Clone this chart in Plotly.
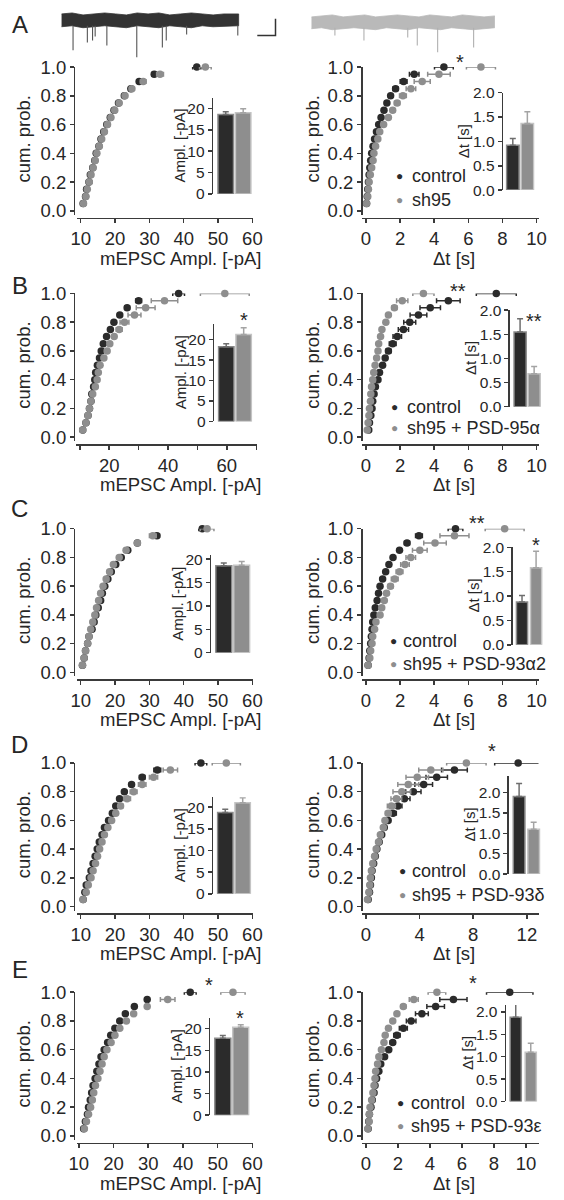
import plotly.graph_objects as go

W, H = 564, 1200

# ---------------- data ----------------
PROBS = [0.05, 0.10, 0.15, 0.20, 0.25, 0.30, 0.35, 0.40, 0.45, 0.50,
         0.55, 0.60, 0.65, 0.70, 0.75, 0.80, 0.85, 0.90, 0.95, 1.00]

# A
A_amp_ctl = [10.7, 11.4, 11.7, 12.4, 12.8, 13.5, 14.1, 14.5, 15.3, 15.9, 16.7, 17.6, 18.6, 19.7, 21.0, 22.7, 24.6, 27.0, 31.4, 43.8]
A_amp_ctl_err = [0.1, 0.1, 0.1, 0.1, 0.1, 0.1, 0.1, 0.1, 0.1, 0.1, 0.1, 0.1, 0.2, 0.2, 0.2, 0.3, 0.4, 0.6, 0.7, 1.2]
A_amp_trt = [10.8, 11.5, 11.9, 12.5, 13.0, 13.6, 14.2, 14.7, 15.4, 16.1, 16.9, 17.8, 18.8, 19.9, 21.2, 22.9, 24.9, 28.2, 33.1, 46.3]
A_amp_trt_err = [0.1, 0.1, 0.1, 0.1, 0.1, 0.1, 0.1, 0.1, 0.1, 0.1, 0.1, 0.2, 0.2, 0.2, 0.3, 0.4, 0.5, 0.8, 1.0, 1.7]
A_dt_ctl = [0.04, 0.08, 0.11, 0.15, 0.19, 0.23, 0.28, 0.34, 0.42, 0.51, 0.62, 0.75, 0.89, 1.06, 1.23, 1.45, 1.74, 2.21, 2.83, 4.57]
A_dt_ctl_err = [0.01, 0.01, 0.01, 0.01, 0.02, 0.02, 0.02, 0.03, 0.03, 0.04, 0.04, 0.05, 0.06, 0.07, 0.08, 0.10, 0.15, 0.20, 0.28, 0.55]
A_dt_trt = [0.04, 0.11, 0.15, 0.19, 0.26, 0.34, 0.42, 0.47, 0.57, 0.70, 0.81, 1.04, 1.32, 1.57, 1.83, 2.17, 2.64, 3.30, 4.28, 6.74]
A_dt_trt_err = [0.01, 0.01, 0.02, 0.02, 0.02, 0.03, 0.03, 0.04, 0.05, 0.06, 0.07, 0.08, 0.10, 0.12, 0.15, 0.20, 0.28, 0.47, 0.66, 0.85]
A_bar_amp = [18.6, 19.0]
A_bar_amp_err = [0.6, 0.9]
A_bar_dt = [0.92, 1.37]
A_bar_dt_err = [0.14, 0.24]
A_label = "sh95"

# B
B_amp_ctl = [11.0, 12.1, 12.8, 13.3, 13.8, 14.1, 14.7, 15.1, 15.4, 16.0, 16.7, 17.3, 18.0, 19.1, 20.4, 21.6, 23.6, 26.1, 30.0, 43.6]
B_amp_ctl_err = [0.1, 0.1, 0.1, 0.1, 0.1, 0.1, 0.1, 0.1, 0.1, 0.2, 0.2, 0.2, 0.3, 0.3, 0.4, 0.5, 0.6, 0.8, 1.0, 2.0]
B_amp_trt = [11.0, 12.1, 12.8, 13.3, 13.8, 14.4, 15.3, 15.9, 16.3, 16.9, 18.2, 19.3, 20.2, 21.7, 23.4, 25.2, 28.6, 32.4, 38.8, 59.3]
B_amp_trt_err = [0.1, 0.1, 0.1, 0.1, 0.2, 0.2, 0.2, 0.2, 0.3, 0.3, 0.4, 0.5, 0.6, 0.7, 1.0, 1.5, 2.2, 3.2, 4.5, 8.3]
B_dt_ctl = [0.17, 0.21, 0.29, 0.36, 0.40, 0.48, 0.56, 0.71, 0.80, 0.98, 1.13, 1.32, 1.57, 1.84, 2.20, 2.57, 3.08, 3.77, 4.83, 7.64]
B_dt_ctl_err = [0.01, 0.02, 0.02, 0.02, 0.03, 0.03, 0.04, 0.05, 0.06, 0.08, 0.10, 0.15, 0.20, 0.25, 0.30, 0.35, 0.49, 0.60, 0.69, 1.17]
B_dt_trt = [0.08, 0.13, 0.18, 0.21, 0.27, 0.29, 0.33, 0.40, 0.46, 0.54, 0.63, 0.71, 0.75, 0.86, 0.94, 1.17, 1.32, 1.67, 2.13, 3.37]
B_dt_trt_err = [0.01, 0.01, 0.01, 0.01, 0.02, 0.02, 0.02, 0.02, 0.03, 0.03, 0.03, 0.04, 0.04, 0.05, 0.06, 0.08, 0.10, 0.15, 0.33, 0.62]
B_bar_amp = [18.3, 21.3]
B_bar_amp_err = [0.7, 1.6]
B_bar_dt = [1.55, 0.68]
B_bar_dt_err = [0.27, 0.15]
B_label = "sh95 + PSD-95α"

# C
C_amp_ctl = [10.5, 11.0, 11.4, 12.0, 12.4, 13.3, 13.9, 14.4, 15.1, 15.8, 16.3, 17.0, 17.9, 18.9, 20.2, 21.8, 23.7, 26.5, 32.2, 45.4]
C_amp_ctl_err = [0.1, 0.1, 0.1, 0.1, 0.1, 0.1, 0.1, 0.1, 0.1, 0.1, 0.1, 0.2, 0.2, 0.2, 0.3, 0.3, 0.4, 0.5, 0.7, 1.0]
C_amp_trt = [10.5, 11.0, 11.4, 12.0, 12.4, 12.9, 13.5, 14.1, 14.6, 15.2, 15.8, 16.5, 17.4, 18.4, 19.5, 21.2, 23.2, 26.5, 31.0, 46.8]
C_amp_trt_err = [0.1, 0.1, 0.1, 0.1, 0.1, 0.1, 0.1, 0.1, 0.1, 0.1, 0.2, 0.2, 0.2, 0.3, 0.3, 0.4, 0.5, 0.7, 1.0, 2.0]
C_dt_ctl = [0.13, 0.19, 0.23, 0.28, 0.32, 0.36, 0.40, 0.47, 0.55, 0.66, 0.74, 0.83, 0.98, 1.16, 1.35, 1.59, 1.97, 2.41, 3.11, 5.25]
C_dt_ctl_err = [0.01, 0.01, 0.01, 0.01, 0.02, 0.02, 0.02, 0.03, 0.03, 0.03, 0.04, 0.04, 0.05, 0.06, 0.07, 0.08, 0.10, 0.15, 0.20, 0.43]
C_dt_trt = [0.13, 0.23, 0.28, 0.36, 0.40, 0.51, 0.59, 0.83, 0.93, 1.08, 1.21, 1.44, 1.69, 1.97, 2.29, 2.63, 3.16, 4.05, 5.19, 8.13]
C_dt_trt_err = [0.01, 0.02, 0.02, 0.03, 0.03, 0.04, 0.05, 0.06, 0.08, 0.10, 0.12, 0.15, 0.20, 0.20, 0.25, 0.28, 0.43, 0.66, 0.85, 1.14]
C_bar_amp = [18.6, 18.7]
C_bar_amp_err = [0.6, 0.8]
C_bar_dt = [0.88, 1.58]
C_bar_dt_err = [0.13, 0.34]
C_label = "sh95 + PSD-93α2"

# D
D_amp_ctl = [10.7, 11.2, 11.6, 12.5, 13.0, 13.6, 14.2, 14.8, 15.4, 16.2, 16.9, 18.1, 19.2, 20.2, 21.3, 22.7, 24.8, 27.9, 32.3, 45.0]
D_amp_ctl_err = [0.1, 0.1, 0.1, 0.1, 0.1, 0.1, 0.1, 0.2, 0.2, 0.2, 0.2, 0.3, 0.3, 0.3, 0.4, 0.5, 0.6, 0.8, 1.0, 1.7]
D_amp_trt = [10.7, 11.6, 12.2, 13.0, 13.6, 14.3, 14.9, 15.5, 16.2, 16.9, 17.9, 19.0, 20.2, 21.6, 23.5, 25.4, 27.9, 31.2, 36.1, 52.4]
D_amp_trt_err = [0.1, 0.1, 0.1, 0.1, 0.2, 0.2, 0.2, 0.2, 0.3, 0.3, 0.3, 0.4, 0.5, 0.7, 1.0, 1.0, 1.1, 1.2, 2.1, 4.1]
D_dt_ctl = [0.17, 0.27, 0.34, 0.41, 0.46, 0.58, 0.70, 0.82, 0.99, 1.18, 1.37, 1.66, 2.02, 2.39, 2.87, 3.54, 4.31, 5.28, 6.60, 11.35]
D_dt_ctl_err = [0.02, 0.02, 0.03, 0.03, 0.04, 0.05, 0.06, 0.07, 0.08, 0.10, 0.12, 0.15, 0.25, 0.30, 0.42, 0.57, 0.66, 0.80, 0.96, 1.75]
D_dt_trt = [0.12, 0.22, 0.29, 0.34, 0.41, 0.51, 0.65, 0.77, 0.94, 1.08, 1.30, 1.42, 1.66, 1.90, 2.27, 2.68, 3.16, 3.83, 4.84, 7.49]
D_dt_trt_err = [0.02, 0.02, 0.03, 0.03, 0.04, 0.05, 0.06, 0.07, 0.08, 0.10, 0.12, 0.15, 0.20, 0.30, 0.40, 0.66, 0.78, 0.84, 0.90, 1.47]
D_bar_amp = [18.8, 21.0]
D_bar_amp_err = [0.7, 1.2]
D_bar_dt = [1.90, 1.10]
D_bar_dt_err = [0.32, 0.17]
D_label = "sh95 + PSD-93δ"

# E
E_amp_ctl = [11.4, 11.9, 12.5, 12.8, 13.3, 13.7, 14.1, 14.7, 15.2, 15.8, 16.4, 17.3, 18.3, 19.2, 20.4, 21.8, 23.4, 26.0, 29.7, 42.1]
E_amp_ctl_err = [0.1, 0.1, 0.1, 0.1, 0.1, 0.1, 0.1, 0.1, 0.1, 0.1, 0.1, 0.2, 0.2, 0.2, 0.2, 0.3, 0.3, 0.4, 0.5, 1.7]
E_amp_trt = [11.6, 12.2, 12.8, 13.4, 13.9, 14.3, 14.8, 15.5, 16.1, 16.7, 17.3, 18.1, 19.3, 20.4, 21.8, 23.7, 25.8, 29.7, 35.6, 54.4]
E_amp_trt_err = [0.1, 0.1, 0.1, 0.1, 0.1, 0.1, 0.1, 0.1, 0.2, 0.2, 0.2, 0.2, 0.3, 0.3, 0.3, 0.3, 0.4, 0.5, 2.1, 3.5]
E_dt_ctl = [0.14, 0.18, 0.22, 0.32, 0.40, 0.51, 0.57, 0.67, 0.81, 0.93, 1.17, 1.43, 1.68, 1.94, 2.34, 2.83, 3.50, 4.36, 5.47, 8.99]
E_dt_ctl_err = [0.01, 0.01, 0.02, 0.02, 0.02, 0.03, 0.03, 0.04, 0.05, 0.06, 0.08, 0.10, 0.15, 0.20, 0.25, 0.30, 0.40, 0.55, 0.85, 1.45]
E_dt_trt = [0.12, 0.20, 0.22, 0.26, 0.36, 0.44, 0.51, 0.57, 0.61, 0.73, 0.81, 0.97, 1.13, 1.21, 1.41, 1.68, 1.94, 2.34, 2.99, 4.44]
E_dt_trt_err = [0.01, 0.01, 0.01, 0.01, 0.02, 0.02, 0.02, 0.02, 0.03, 0.03, 0.03, 0.04, 0.05, 0.05, 0.06, 0.08, 0.10, 0.15, 0.28, 0.55]
E_bar_amp = [17.8, 20.3]
E_bar_amp_err = [0.6, 0.6]
E_bar_dt = [1.88, 1.10]
E_bar_dt_err = [0.33, 0.20]
E_label = "sh95 + PSD-93ε"

# example recordings (time units, current units)
dark_t = [0, 25, 50, 75, 100, 125, 150, 175, 200, 225, 250, 275, 300, 325, 350, 375, 409]
dark_hi = [-3, -2, -4, -3, -2, -3, -4, -2, -3, -2, -4, -3, -2, -3, -4, -3, -3]
dark_lo = [-16, -15, -17, -16, -15, -16, -17, -15, -16, -17, -15, -16, -17, -15, -16, -16, -15]
dark_spk_t = [27, 60, 72, 78, 105, 174, 233, 242, 289, 407]
dark_spk_v = [-40, -32, -30, -26, -35, -47, -37, -30, -24, -25]
grey_t = [577, 600, 625, 650, 675, 700, 725, 750, 775, 800, 825, 850, 875, 900, 925, 950, 975, 1000]
grey_hi = [-6, -5, -4, -6, -5, -4, -6, -5, -4, -5, -6, -4, -5, -6, -4, -5, -6, -5]
grey_lo = [-18, -17, -19, -18, -17, -18, -19, -17, -18, -19, -17, -18, -19, -17, -18, -19, -18, -17]
grey_spk_t = [631, 698, 799, 821, 868, 951]
grey_spk_v = [-25, -30, -27, -35, -42, -37]
scale_t = [452, 494, 494]
scale_v = [-25, -25, -8]

CATS = ["control", "treatment"]

# ---------------- styling ----------------
FONT = "Liberation Sans, Arial, Helvetica, sans-serif"
TXT = "#262626"
AXC = "#3a3a3a"
DARK = "#2b2b2b"
GREY = "#8e8e8e"
DARK_EDGE = "#8a8a8a"
GREY_EDGE = "#c4c4c4"
DARK_ERR = "#6e6e6e"
GREY_ERR = "#a4a4a4"
TICK_FS = 18.5
TITLE_FS = 18.5
LEG_FS = 18
INS_TICK_FS = 15.5
INS_TITLE_FS = 15


def fx(p):
    return p / W


def fy(p):
    return 1 - p / H


def lin(v1, p1, v2, p2, p):
    return v1 + (p - p1) * (v2 - v1) / (p2 - p1)


fig = go.Figure()
lay = dict(width=W, height=H, margin=dict(l=0, r=0, t=0, b=0),
           paper_bgcolor="white", plot_bgcolor="rgba(0,0,0,0)",
           showlegend=False, barmode="overlay",
           font=dict(family=FONT, color=TXT, size=18))
ann = []
cnt = [0]


def new_axes():
    cnt[0] += 1
    n = cnt[0]
    s = "" if n == 1 else str(n)
    return "xaxis" + s, "yaxis" + s, "x" + s, "y" + s


def text(x, y, s, size, color=TXT, **kw):
    d = dict(x=fx(x), y=fy(y), xref="paper", yref="paper", text=s, showarrow=False,
             font=dict(size=size, color=color, family=FONT),
             xanchor="center", yanchor="middle")
    d.update(kw)
    ann.append(d)


def axis_style(size):
    return dict(showline=True, linecolor=AXC, linewidth=1.5, ticks="outside",
                ticklen=4, tickwidth=1.5, tickcolor=AXC, showgrid=False,
                zeroline=False, fixedrange=True,
                tickfont=dict(size=size, color=TXT, family=FONT))


# ---------------- top example traces ----------------
xa, ya, xr, yr = new_axes()
lay[xa] = dict(domain=[fx(55), fx(502)], range=[0, 1000], visible=False, fixedrange=True)
lay[ya] = dict(domain=[fy(50), fy(0)], range=[-50, 0], visible=False, fixedrange=True)
for tt, hi, lo, col in ((dark_t, dark_hi, dark_lo, "#333333"), (grey_t, grey_hi, grey_lo, "#b9b9b9")):
    fig.add_trace(go.Scatter(x=tt + tt[::-1], y=hi + lo[::-1], fill="toself", fillcolor=col,
                             mode="lines", line=dict(color=col, width=0.8),
                             xaxis=xr, yaxis=yr, hoverinfo="skip"))
for st, sv, base, col in ((dark_spk_t, dark_spk_v, -15, "#555555"), (grey_spk_t, grey_spk_v, -17, "#b0b0b0")):
    xs, ys = [], []
    for t, v in zip(st, sv):
        xs += [t, t, None]
        ys += [base, v, None]
    fig.add_trace(go.Scatter(x=xs, y=ys, mode="lines", line=dict(color=col, width=1.1),
                             xaxis=xr, yaxis=yr, hoverinfo="skip"))
fig.add_trace(go.Scatter(x=scale_t, y=scale_v, mode="lines", line=dict(color="#333333", width=1.5),
                         xaxis=xr, yaxis=yr, hoverinfo="skip"))


# ---------------- panels ----------------
def cum_panel(T, side, xcal, xdom, xticks, xticktext, ctl, ctl_e, trt, trt_e, xtitle):
    xa, ya, xr, yr = new_axes()
    v1, p1, v2, p2 = xcal
    lay[xa] = dict(domain=[fx(xdom[0]), fx(xdom[1])],
                   range=[lin(v1, p1, v2, p2, xdom[0]), lin(v1, p1, v2, p2, xdom[1])],
                   anchor="free", position=fy(T + 153),
                   tickvals=xticks, ticktext=xticktext, **axis_style(TICK_FS))
    yax_px = 68 if side == "L" else 364
    lay[ya] = dict(domain=[fy(T + 150), fy(T)],
                   range=[lin(1.0, T, 0.0, T + 146, T + 150), 1.0],
                   anchor="free", position=fx(yax_px),
                   tickvals=[0, 0.2, 0.4, 0.6, 0.8, 1.0],
                   ticktext=["0.0", "0.2", "0.4", "0.6", "0.8", "1.0"], **axis_style(TICK_FS))
    for xs, es, col in ((ctl, ctl_e, DARK), (trt, trt_e, GREY)):
        fig.add_trace(go.Scatter(x=xs, y=PROBS, mode="markers",
                                 marker=dict(size=7.5, color=col),
                                 error_x=dict(type="data", array=es, color=col, thickness=1.5, width=2.5),
                                 xaxis=xr, yaxis=yr, cliponaxis=False, hoverinfo="skip"))
    if side == "L":
        text(16, T + 73, "cum. prob.", TITLE_FS, textangle=-90)
        text(178, T + 194, xtitle, TITLE_FS)
    else:
        text(314, T + 73, "cum. prob.", TITLE_FS, textangle=-90)
        text(460, T + 194, xtitle, TITLE_FS)


def inset(spec, vals, errs, ticks, ticktext, title, title_dx):
    yax, y0, vref, pref, top, b1, b2 = spec
    xa, ya, xr, yr = new_axes()
    c1 = (b1[0] + b1[1]) / 2
    c2 = (b2[0] + b2[1]) / 2
    s = c2 - c1
    bw = ((b1[1] - b1[0]) + (b2[1] - b2[0])) / 2 / s
    lay[xa] = dict(domain=[fx(c1 - s / 2), fx(c2 + s / 2)], range=[-0.5, 1.5], visible=False,
                   fixedrange=True, type="category", categoryorder="array", categoryarray=CATS)
    lay[ya] = dict(domain=[fy(y0), fy(top)], range=[0, lin(0, y0, vref, pref, top)],
                   anchor="free", position=fx(yax), tickvals=ticks, ticktext=ticktext,
                   **axis_style(INS_TICK_FS))
    styles = ((DARK, DARK_EDGE, DARK_ERR), (GREY, GREY_EDGE, GREY_ERR))
    for i, (fill, edge, ecol) in enumerate(styles):
        fig.add_trace(go.Bar(x=[CATS[i]], y=[vals[i]], width=bw,
                             marker=dict(color=fill, line=dict(color=edge, width=1.5)),
                             error_y=dict(type="data", array=[errs[i]], arrayminus=[0], symmetric=False,
                                          color=ecol, thickness=1.5, width=3),
                             xaxis=xr, yaxis=yr, hoverinfo="skip"))
    text(yax - title_dx, (y0 + top) / 2, title, INS_TITLE_FS, textangle=-90)


def legend(T, mx, tx, label, dy1=111, dy2=135):
    text(mx, T + dy1, "●", 12, color=DARK)
    text(tx, T + dy1, "control", LEG_FS, xanchor="left")
    text(mx, T + dy2, "●", 12, color=GREY)
    text(tx, T + dy2, label, LEG_FS, xanchor="left")


AMP_TICKS = [0, 5, 10, 15, 20]
AMP_TT = ["0", "5", "10", "15", "20"]
DT_TICKS = [0, 0.5, 1.0, 1.5, 2.0]
DT_TT = ["0.0", "0.5", "1.0", "1.5", "2.0"]
AMP_X = [10, 20, 30, 40, 50, 60]
AMP_XT = ["10", "20", "30", "40", "50", "60"]
DT_X = [0, 2, 4, 6, 8, 10]
DT_XT = ["0", "2", "4", "6", "8", "10"]
AMP_TITLE = "mEPSC Ampl. [-pA]"
DT_TITLE = "Δt [s]"
LXDOM = (71, 253)
RXDOM = (365, 547)

rows = [
    dict(T=57, ly=14, amp=(A_amp_ctl, A_amp_ctl_err, A_amp_trt, A_amp_trt_err),
         dt=(A_dt_ctl, A_dt_ctl_err, A_dt_trt, A_dt_trt_err), letter="A",
         lcal=(10, 75, 60, 252), lxt=(AMP_X, AMP_XT), lxdom=LXDOM,
         rcal=(0, 369, 10, 545), rxt=(DT_X, DT_XT),
         ins_l=(210, 186, 20, 99, 88, (217, 232), (234, 251)),
         ins_r=(509, 182, 2.0, 83, 83, (514, 527), (529, 542)),
         bars_l=(A_bar_amp, A_bar_amp_err), bars_r=(A_bar_dt, A_bar_dt_err),
         label=A_label, leg=(404, 414, 111, 135)),
    dict(T=287, ly=279, amp=(B_amp_ctl, B_amp_ctl_err, B_amp_trt, B_amp_trt_err),
         dt=(B_dt_ctl, B_dt_ctl_err, B_dt_trt, B_dt_trt_err), letter="B",
         lcal=(10, 74, 70, 256), lxt=([10, 20, 30, 40, 50, 60, 70], ["", "20", "", "40", "", "60", ""]),
         lxdom=(70, 257),
         rcal=(0, 369, 10, 545), rxt=(DT_X, DT_XT),
         ins_l=(211, 417, 20, 334, 318, (217, 233), (235, 251)),
         ins_r=(516, 402, 2.0, 304, 304, (522, 534), (536, 549)),
         bars_l=(B_bar_amp, B_bar_amp_err), bars_r=(B_bar_dt, B_bar_dt_err),
         label=B_label, leg=(399, 409, 115, 137)),
    dict(T=526, ly=505, amp=(C_amp_ctl, C_amp_ctl_err, C_amp_trt, C_amp_trt_err),
         dt=(C_dt_ctl, C_dt_ctl_err, C_dt_trt, C_dt_trt_err), letter="C",
         lcal=(10, 75, 60, 252), lxt=(AMP_X, AMP_XT), lxdom=LXDOM,
         rcal=(0, 369, 10, 545), rxt=(DT_X, DT_XT),
         ins_l=(208, 652, 20, 557, 553, (214, 231), (233, 249)),
         ins_r=(519, 644, 2.0, 545, 545, (524, 536), (539, 550)),
         bars_l=(C_bar_amp, C_bar_amp_err), bars_r=(C_bar_dt, C_bar_dt_err),
         label=C_label, leg=(397, 405, 114, 137)),
    dict(T=764, ly=745, amp=(D_amp_ctl, D_amp_ctl_err, D_amp_trt, D_amp_trt_err),
         dt=(D_dt_ctl, D_dt_ctl_err, D_dt_trt, D_dt_trt_err), letter="D",
         lcal=(10, 75, 60, 252), lxt=(AMP_X, AMP_XT), lxdom=LXDOM,
         rcal=(0, 369, 12, 535), rxt=([0, 4, 8, 12], ["0", "4", "8", "12"]),
         ins_l=(210, 897, 20, 809, 799, (216, 232), (234, 250)),
         ins_r=(515, 877, 2.0, 794, 777, (521, 533), (536, 548)),
         bars_l=(D_bar_amp, D_bar_amp_err), bars_r=(D_bar_dt, D_bar_dt_err),
         label=D_label, leg=(407, 415, 110, 134)),
    dict(T=997, ly=974, amp=(E_amp_ctl, E_amp_ctl_err, E_amp_trt, E_amp_trt_err),
         dt=(E_dt_ctl, E_dt_ctl_err, E_dt_trt, E_dt_trt_err), letter="E",
         lcal=(10, 73, 60, 252), lxt=(AMP_X, AMP_XT), lxdom=LXDOM,
         rcal=(0, 369, 10, 534), rxt=(DT_X, DT_XT),
         ins_l=(207, 1122, 20, 1034, 1023, (213, 230), (232, 248)),
         ins_r=(512, 1108, 2.0, 1017, 1010, (518, 529), (533, 545)),
         bars_l=(E_bar_amp, E_bar_amp_err), bars_r=(E_bar_dt, E_bar_dt_err),
         label=E_label, leg=(405, 413, 113, 136)),
]

for r in rows:
    T = r["T"]
    cum_panel(T, "L", r["lcal"], r["lxdom"], r["lxt"][0], r["lxt"][1], *r["amp"], AMP_TITLE)
    cum_panel(T, "R", r["rcal"], RXDOM, r["rxt"][0], r["rxt"][1], *r["dt"], DT_TITLE)
    inset(r["ins_l"], r["bars_l"][0], r["bars_l"][1], AMP_TICKS, AMP_TT, "Ampl. [-pA]", 33)
    inset(r["ins_r"], r["bars_r"][0], r["bars_r"][1], DT_TICKS, DT_TT, DT_TITLE, 39)
    legend(T, r["leg"][0], r["leg"][1], r["label"], r["leg"][2], r["leg"][3])
    text(12, r["ly"], r["letter"], 24)

# significance marks (glyph centres as seen, shifted for the asterisk baseline)
STARS = [(466, 47, "*"), (243, 309, "*"), (464, 280, "**"), (542, 310, "**"),
         (484, 515, "**"), (544, 538, "*"), (499, 747, "*"), (207, 985, "*"),
         (239, 1018, "*"), (479, 983, "*")]
for x, y, s in STARS:
    text(x, y + 5, s, 20)

lay["annotations"] = ann
fig.update_layout(**lay)
fig.write_html("out.html", config={"displayModeBar": False, "staticPlot": True},
               post_script="document.body.style.margin='0px';")
